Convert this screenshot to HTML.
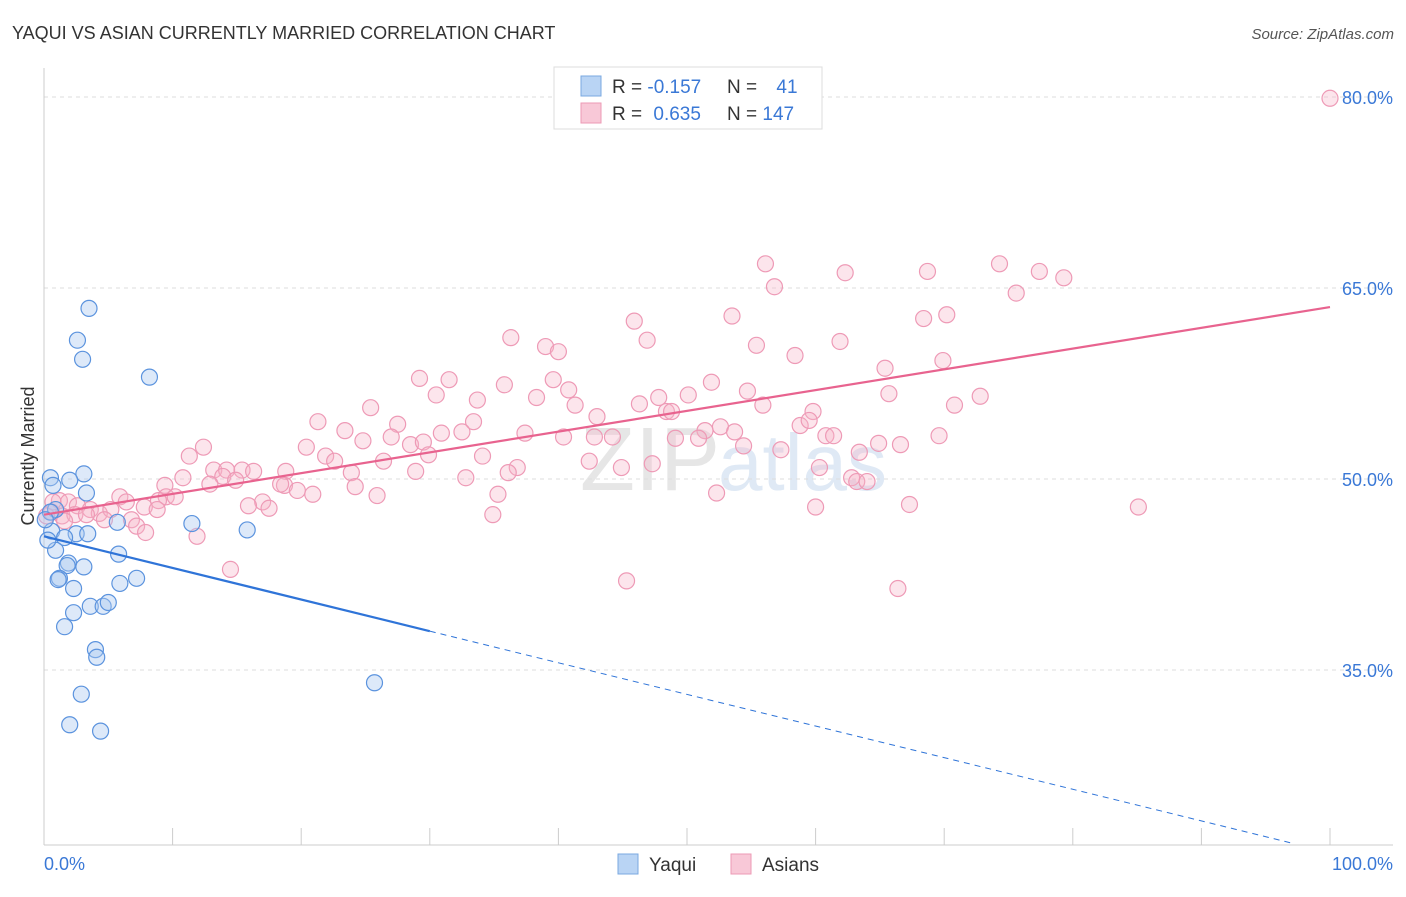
<!DOCTYPE html>
<html><head><meta charset="utf-8"><style>
body{margin:0;background:#fff;font-family:"Liberation Sans",sans-serif;}
svg text{font-family:"Liberation Sans",sans-serif;}
</style></head><body>
<svg id="c" width="1406" height="892" viewBox="0 0 1406 892" xmlns="http://www.w3.org/2000/svg">
<text x="12" y="39" font-size="18" fill="#333">YAQUI VS ASIAN CURRENTLY MARRIED CORRELATION CHART</text>
<text x="1394" y="39" font-size="15" fill="#555" font-style="italic" text-anchor="end">Source: ZipAtlas.com</text>
<text transform="translate(34,456) rotate(-90)" font-size="18" fill="#333" text-anchor="middle">Currently Married</text>
<text x="720" y="490" font-size="90" fill="#e6e6e6" text-anchor="end" font-family="Liberation Serif">ZIP</text>
<text x="718" y="490" font-size="80" fill="#dfe9f5">atlas</text>
<g id="grid"></g><g id="axes"></g><g id="pts"></g><g id="lines"></g>
<g>
<rect x="554" y="67" width="268" height="62" fill="#fff" stroke="#ddd"/>
<rect x="581" y="76" width="20" height="20" fill="#b9d4f4" stroke="#7aa8e0"/>
<rect x="581" y="103" width="20" height="20" fill="#f8c8d7" stroke="#ec9ab4"/>
<text x="612" y="93" font-size="19" fill="#333">R = <tspan fill="#3a78d6">-0.157</tspan></text>
<text x="727" y="93" font-size="19" fill="#333">N = <tspan fill="#3a78d6" dx="14">41</tspan></text>
<text x="612" y="120" font-size="19" fill="#333">R = <tspan fill="#3a78d6" dx="6">0.635</tspan></text>
<text x="727" y="120" font-size="19" fill="#333">N = <tspan fill="#3a78d6">147</tspan></text>
</g>
<g>
<rect x="618" y="854" width="20" height="20" fill="#b9d4f4" stroke="#7aa8e0"/>
<text x="649" y="871" font-size="19" fill="#333">Yaqui</text>
<rect x="731" y="854" width="20" height="20" fill="#f8c8d7" stroke="#ec9ab4"/>
<text x="762" y="871" font-size="19" fill="#333">Asians</text>
</g>
</svg>
<script>
const yTicks=[80,65,50,35];
const xTickLabels=["0.0%","100.0%"];
const yaquiX=[3.5,2.6,3.0,8.2,3.1,0.5,0.7,2.0,3.3,0.9,0.5,5.7,11.5,15.8,0.6,2.5,3.4,1.6,0.9,5.8,1.9,1.8,3.1,1.2,1.1,7.2,5.9,2.3,2.3,3.6,4.6,5.0,1.6,4.0,4.1,2.9,25.7,2.0,4.4,0.1,0.3];
const yaquiY=[63.4,60.9,59.4,58.0,50.4,50.1,49.5,49.9,48.9,47.6,47.4,46.6,46.5,46.0,45.9,45.7,45.7,45.4,44.4,44.1,43.4,43.2,43.1,42.2,42.1,42.2,41.8,41.4,39.5,40.0,40.0,40.3,38.4,36.6,36.0,33.1,34.0,30.7,30.2,46.8,45.2];
const asianX=[100,56.1,74.3,68.7,77.4,79.3,62.3,56.8,75.6,53.5,68.4,70.2,45.9,36.3,46.9,61.9,39.0,40.0,55.4,58.4,69.9,65.4,29.2,31.5,39.6,51.9,35.8,40.8,30.5,54.7,65.7,72.8,47.8,50.1,33.7,38.3,41.3,55.9,70.8,48.4,46.3,48.8,43.0,59.8,25.4,21.3,33.4,58.8,59.5,52.6,27.5,23.4,30.9,32.5,37.4,42.8,51.4,40.4,44.2,53.7,60.8,61.4,69.6,20.4,24.8,27.0,28.5,29.5,12.4,49.1,50.9,54.4,64.9,66.6,57.3,11.3,21.9,22.6,26.4,29.9,34.1,63.4,42.4,47.3,44.9,60.3,36.8,23.9,28.9,36.1,13.2,14.2,15.4,16.3,18.8,10.8,32.8,62.8,13.9,14.9,18.7,12.9,18.4,9.4,19.7,20.9,24.2,35.3,63.2,64.0,25.9,9.5,10.2,8.9,5.9,6.4,17.0,15.9,17.5,52.3,67.3,60.0,1.2,1.9,2.6,3.6,4.3,5.2,7.8,8.8,0.6,1.4,2.4,3.3,4.7,6.8,7.2,7.9,11.9,34.9,85.1,14.5,45.3,66.4,0.7,1.6,0.2];
const asianY=[79.9,66.9,66.9,66.3,66.3,65.8,66.2,65.1,64.6,62.8,62.6,62.9,62.4,61.1,60.9,60.8,60.4,60.0,60.5,59.7,59.3,58.7,57.9,57.8,57.8,57.6,57.4,57.0,56.6,56.9,56.7,56.5,56.4,56.6,56.2,56.4,55.8,55.8,55.8,55.3,55.9,55.3,54.9,55.3,55.6,54.5,54.5,54.2,54.6,54.1,54.3,53.8,53.6,53.7,53.6,53.3,53.8,53.3,53.3,53.7,53.4,53.4,53.4,52.5,53.0,53.3,52.7,52.9,52.5,53.2,53.2,52.6,52.8,52.7,52.3,51.8,51.8,51.4,51.4,51.9,51.8,52.1,51.4,51.2,50.9,50.9,50.9,50.5,50.6,50.5,50.7,50.7,50.7,50.6,50.6,50.1,50.1,50.1,50.2,49.9,49.5,49.6,49.6,49.5,49.1,48.8,49.4,48.8,49.8,49.8,48.7,48.6,48.6,48.3,48.6,48.2,48.2,47.9,47.7,48.9,48.0,47.8,48.3,48.2,47.9,47.6,47.3,47.6,47.8,47.6,47.4,47.1,47.2,47.2,46.8,46.8,46.3,45.8,45.5,47.2,47.8,42.9,42.0,41.4,48.2,46.7,47.1];
const yaquiTrend=[45.5,38.05,96.9];
const asianTrend=[47.2,63.5];
const NS='http://www.w3.org/2000/svg';
const X0=44,X1=1330,plotL=44,plotR=1393,plotB=845,plotT=68;
function sx(v){return X0+(X1-X0)*v/100;}
function sy(v){return 97+(80-v)*191/15;}
function mk(tag,attrs,parent){const e=document.createElementNS(NS,tag);for(const k in attrs)e.setAttribute(k,attrs[k]);document.getElementById(parent).appendChild(e);return e;}
yTicks.forEach(t=>{
 const l=mk('line',{x1:plotL,x2:plotR,y1:sy(t),y2:sy(t),stroke:'#ddd','stroke-dasharray':'4,4'},'grid');
 
 
 const tx=mk('text',{x:1393,y:sy(t)+7,'font-size':18,fill:'#3a78d6','text-anchor':'end'},'grid');
 tx.textContent=t.toFixed(1)+'%';
 
 
});
let a=mk('line',{x1:plotL,x2:plotL,y1:plotT,y2:plotB,stroke:'#ccc'},'axes');


a=mk('line',{x1:plotL,x2:plotR,y1:plotB,y2:plotB,stroke:'#ccc'},'axes');


for(let i=0;i<=10;i++){
 const t=mk('line',{x1:sx(i*10),x2:sx(i*10),y1:828,y2:plotB,stroke:'#ccc'},'axes');
 
 
}
let t0=mk('text',{x:44,y:870,'font-size':18,fill:'#3a78d6'},'axes');t0.textContent=xTickLabels[0];


let t1=mk('text',{x:1393,y:870,'font-size':18,fill:'#3a78d6','text-anchor':'end'},'axes');t1.textContent=xTickLabels[1];


asianX.forEach((v,i)=>{
 const c=mk('circle',{cx:sx(v),cy:sy(asianY[i]),r:8,fill:'rgba(246,180,200,0.35)',stroke:'#ee9ab6','stroke-width':1.2},'pts');
 
 
});
yaquiX.forEach((v,i)=>{
 const c=mk('circle',{cx:sx(v),cy:sy(yaquiY[i]),r:8,fill:'rgba(170,200,240,0.4)',stroke:'#5b93de','stroke-width':1.2},'pts');
 
 
});
const slopeY=(yaquiTrend[1]-yaquiTrend[0])/30;
let ln=mk('line',{x1:sx(0),y1:sy(yaquiTrend[0]),x2:sx(30),y2:sy(yaquiTrend[1]),stroke:'#2f74d8','stroke-width':2.2},'lines');


ln=mk('line',{x1:sx(30),y1:sy(yaquiTrend[1]),x2:sx(yaquiTrend[2]),y2:sy(yaquiTrend[0]+slopeY*yaquiTrend[2]),stroke:'#2f74d8','stroke-width':1,'stroke-dasharray':'6,5'},'lines');


ln=mk('line',{x1:sx(0),y1:sy(asianTrend[0]),x2:sx(100),y2:sy(asianTrend[1]),stroke:'#e8638f','stroke-width':2.2},'lines');


</script>
</body></html>
